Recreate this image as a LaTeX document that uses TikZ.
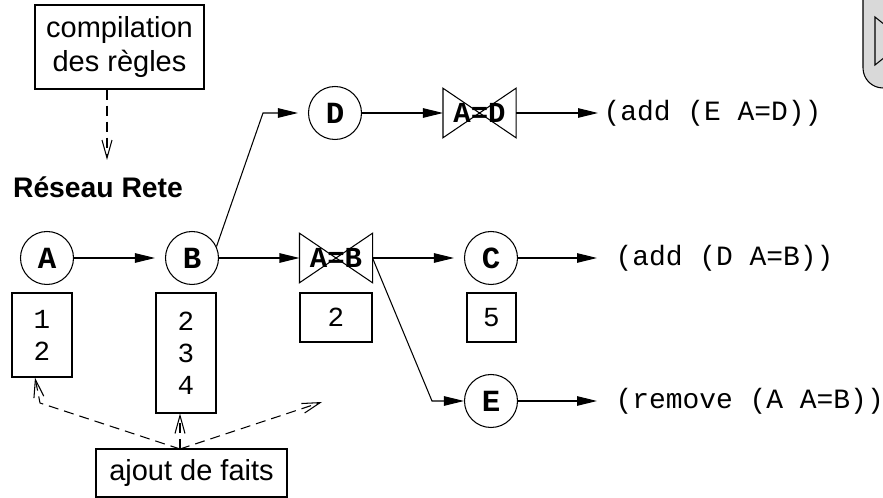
\documentclass[tikz,border=0pt]{standalone}
\usepackage{fontspec}
\setmainfont{Liberation Sans}
\setmonofont{Liberation Mono}
\usepackage{tikz}
\usetikzlibrary{arrows.meta}

\begin{document}
\begin{tikzpicture}[>={Triangle[length=0.4cm,width=0.19cm]},line width=0.6pt,
noeud/.style={draw,circle,minimum size=1.06cm,inner sep=0pt,font=\fontsize{17.5}{18}\selectfont\ttfamily\bfseries},
jointure/.style={minimum width=1.44cm,minimum height=0.97cm,inner sep=0pt,font=\fontsize{16.5}{18}\selectfont\ttfamily\bfseries},
memoire/.style={draw,minimum width=1.2cm,inner sep=0pt,align=center,font=\fontsize{15.7}{18.2}\selectfont\ttfamily},
etiquette/.style={draw,inner sep=0pt,align=center,font=\fontsize{16.5}{19.3}\selectfont},
action/.style={anchor=west,inner sep=0pt,font=\fontsize{15.9}{18}\selectfont\ttfamily},
pointille/.style={dash pattern=on 0.2cm off 0.12cm,-{Straight Barb[length=0.36cm,width=0.2cm]}}]
\clip (0,0) rectangle (17.66,9.96);
% bouton
\draw[fill=black!15,rounded corners=0.4cm] (17.26,8.2) rectangle (18.6,10.6);
\draw (17.50,9.62) -- (17.50,8.66) -- (18.10,9.14) -- cycle;
% textes
\node[etiquette,minimum width=3.38cm,minimum height=1.68cm] (comp) at (2.39,9.02) {compilation\\des règles};
\node[font=\fontsize{16.1}{19}\selectfont\bfseries] (rete) at (1.96,6.22) {Réseau Rete};
\node[etiquette,minimum width=3.82cm,minimum height=0.96cm] (ajout) at (3.83,0.50) {ajout de faits};
% reseau
\node[noeud] (a) at (0.94,4.80) {A};
\node[noeud] (b) at (3.84,4.80) {B};
\node[jointure] (ab) at (6.72,4.80) {A=B};
\node[noeud] (c) at (9.82,4.80) {C};
\node[noeud] (d) at (6.70,7.70) {D};
\node[jointure] (ad) at (9.59,7.70) {A=D};
\node[noeud] (e) at (9.82,1.94) {E};
\foreach \j in {ab,ad}
  \draw (\j.north west)--(\j.south east)--(\j.north east)--(\j.south west)--cycle;
% actions
\node[action] (outd) at (12.06,7.70) {(add (E A=D))};
\node[action] (outc) at (12.30,4.80) {(add (D A=B))};
\node[action] (oute) at (12.30,1.94) {(remove (A A=B))};
% memoires
\node[memoire,minimum height=1.68cm] (ma) at (0.84,3.26) {1\\2};
\node[memoire,minimum height=2.4cm] (mb) at (3.72,2.90) {2\\3\\4};
\node[memoire,minimum width=1.44cm,minimum height=0.98cm] (mab) at (6.72,3.61) {2};
\node[memoire,minimum width=0.98cm,minimum height=0.98cm] (mc) at (9.83,3.61) {5};
% liaisons
\coordinate (coude d) at (5.26,7.70);
\coordinate (coude e) at (8.64,1.94);
\draw[->,shorten >=0.2cm] (a) -- (b);
\draw[->] (b) -- (ab);
\draw[->,shorten >=0.2cm] (ab) -- (c);
\draw[->] (c) -- ([xshift=-0.36cm]outc.west);
\draw[->,shorten >=0.2cm] (b.25) -- (coude d) -- (d);
\draw[->] (d) -- (ad);
\draw[->] (ad) -- ([xshift=-0.1cm]outd.west);
\draw[->] (ab.east) -- (coude e) -- (e);
\draw[->] (e) -- ([xshift=-0.36cm]oute.west);
% pointilles
\coordinate (pointe) at (2.14,6.76);
\coordinate (fait) at (3.60,0.98);
\coordinate (libre) at (6.44,1.92);
\draw[pointille] (comp.south -| pointe) -- (pointe);
\draw[pointille] (fait) -- (0.80,1.90) -- ([xshift=-0.14cm]ma.south);
\draw[pointille] (fait) -- (mb.south -| fait);
\draw[pointille] (fait) -- (libre);
\end{tikzpicture}
\end{document}
